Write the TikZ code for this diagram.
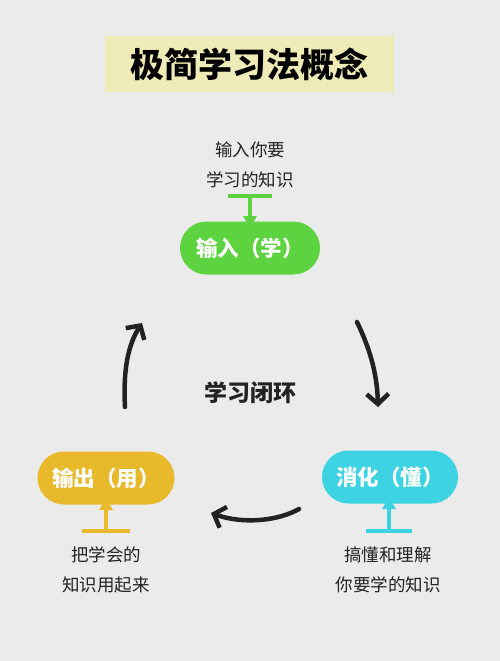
\documentclass[tikz,border=0pt]{standalone}
\usepackage{fontspec}
\setmainfont{Noto Sans CJK SC}
\usetikzlibrary{arrows.meta}
\definecolor{bg}{HTML}{EBEBEB}
\definecolor{titlebg}{HTML}{EFEBB6}
\definecolor{cgreen}{HTML}{5DD33F}
\definecolor{cyellow}{HTML}{E9B92C}
\definecolor{ccyan}{HTML}{3ED3E3}
\definecolor{ink}{HTML}{222222}
\tikzset{
  pill/.style={rounded corners=26.5pt, minimum width=#1, minimum height=53pt, inner sep=0pt,
    text=white, font=\fontsize{21.5}{21.5}\selectfont\bfseries},
  note/.style={align=center, text=ink, font=\fontsize{17.5}{30}\selectfont},
  loop/.style={draw=ink, line width=4.5pt, line cap=round, line join=round,
    -{Straight Barb[length=10pt, width=22pt, line width=4.5pt]}},
  tbar/.style={line width=4pt},
  tarrow/.style={line width=4pt, -{Triangle[length=12pt, width=13pt]}}
}
\begin{document}
\begin{tikzpicture}[x=1pt,y=-1pt]
\useasboundingbox[fill=bg] (0,0) rectangle (500,661);
% title
\node[fill=titlebg, minimum width=289pt, minimum height=56pt, inner sep=0pt,
  font=\fontsize{34}{34}\selectfont\bfseries, text=black] (title) at (249,64) {极简学习法概念};
% pills
\node[pill=140pt, fill=cgreen] (learn) at (250,248) {输入（学）};
\node[pill=137pt, fill=cyellow] (use) at (106,478) {输出（用）};
\node[pill=136pt, fill=ccyan] (digest) at (390,477) {消化（懂）};
% notes
\node[note] (nlearn) at (250,165) {输入你要\\学习的知识};
\node[note] (nuse) at (106,570) {把学会的\\知识用起来};
\node[note] (ndigest) at (388,570) {搞懂和理解\\你要学的知识};
\node[text=ink, font=\fontsize{23}{23}\selectfont\bfseries] (center) at (250,393) {学习闭环};
% T connectors
\coordinate (gl) at (228,196); \coordinate (gr) at (272,196); \coordinate (gm) at (250,196);
\draw[tbar, cgreen] (gl) -- (gr);
\draw[tarrow, cgreen] (gm) -- (learn.north |- 0,228);
\coordinate (yl) at (82,531); \coordinate (yr) at (130,531); \coordinate (ym) at (106,531);
\draw[tbar, cyellow] (yl) -- (yr);
\draw[tarrow, cyellow] (ym) -- (use.south |- 0,498);
\coordinate (cl) at (366,531); \coordinate (cr) at (412,531); \coordinate (cm) at (389,531);
\draw[tbar, ccyan] (cl) -- (cr);
\draw[tarrow, ccyan] (cm) -- (389,497);
% loop arrows
\coordinate (a1s) at (125,407); \coordinate (a1e) at (142,323);
\draw[loop] (a1s) .. controls (123,370) and (128,345) .. (a1e);
\coordinate (a2s) at (357,322); \coordinate (a2e) at (378,407);
\draw[loop] (a2s) .. controls (368,345) and (377,370) .. (a2e);
\coordinate (a3s) at (299,509); \coordinate (a3e) at (211,513);
\draw[loop] (a3s) .. controls (280,520) and (245,525) .. (a3e);
\end{tikzpicture}
\end{document}
